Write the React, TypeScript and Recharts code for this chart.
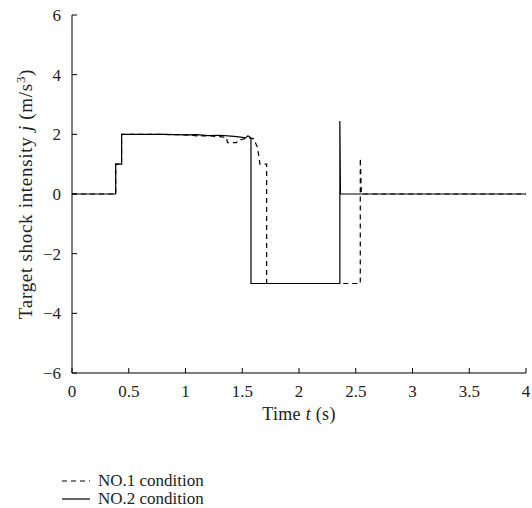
import React from "react";
import { LineChart, Line, XAxis, YAxis } from "recharts";

// ─── Data ────────────────────────────────────────────────────────────────────

const timeNo1 = [
  0, 0.385, 0.385, 0.437, 0.437, 0.6, 0.8, 1.0, 1.1, 1.2, 1.3, 1.36, 1.37, 1.45, 1.46,
  1.52, 1.55, 1.6, 1.63, 1.65, 1.655, 1.715, 1.715, 2.54, 2.54, 2.55, 4,
];
const jerkNo1 = [
  0, 0, 1, 1, 2, 2, 2, 1.98, 1.95, 1.95, 1.92, 1.9, 1.72, 1.72, 1.8, 1.85, 1.9, 1.85,
  1.6, 1.2, 1.0, 1.0, -3, -3, 1.2, 0, 0,
];

const timeNo2 = [
  0, 0.385, 0.385, 0.437, 0.437, 0.6, 0.8, 1.0, 1.1, 1.2, 1.3, 1.4, 1.45, 1.5, 1.53,
  1.55, 1.57, 1.577, 1.577, 2.36, 2.36, 2.365, 4,
];
const jerkNo2 = [
  0, 0, 1, 1, 2, 2, 2, 1.98, 1.99, 1.96, 1.97, 1.94, 1.92, 1.9, 1.88, 1.95, 1.9, 1.85,
  -3, -3, 2.45, 0, 0,
];

const xTicks = [0, 0.5, 1, 1.5, 2, 2.5, 3, 3.5, 4];
const yTicks = [-6, -4, -2, 0, 2, 4, 6];
const seriesNames = ["NO.1 condition", "NO.2 condition"];

const no1Data = timeNo1.map((t, i) => ({ t, j: jerkNo1[i] }));
const no2Data = timeNo2.map((t, i) => ({ t, j: jerkNo2[i] }));

const FONT = "'Liberation Serif', 'DejaVu Serif', serif";
const DASH = "5 4";
const INK = "#222";

const fmtMinus = (v: number) => String(v).replace("-", "\u2212");

function YLabel({ viewBox }: any) {
  const cx = 32;
  const cy = viewBox ? viewBox.y + viewBox.height / 2 : 194;
  return (
    <text
      x={cx}
      y={cy}
      transform={`rotate(-90, ${cx}, ${cy})`}
      textAnchor="middle"
      fontFamily={FONT}
      fontSize={19}
      letterSpacing={0.7}
      fill={INK}
    >
      Target shock intensity <tspan fontStyle="italic">j</tspan> (m/s
      <tspan dy={-7} fontSize={13}>3</tspan>
      <tspan dy={7}>)</tspan>
    </text>
  );
}

function XLabel({ viewBox }: any) {
  const cx = viewBox ? viewBox.x + viewBox.width / 2 : 299;
  return (
    <text x={cx} y={420} textAnchor="middle" fontFamily={FONT} fontSize={18} letterSpacing={0.3} fill={INK}>
      Time <tspan fontStyle="italic">t</tspan> (s)
    </text>
  );
}

export default function App() {
  return (
    <div style={{ position: "absolute", left: 0, top: 0, width: 532, height: 508, background: "#fff" }}>
      <LineChart width={532} height={440} margin={{ top: 15, right: 6, left: 0, bottom: 20 }}>
        <XAxis
          type="number"
          dataKey="t"
          domain={[0, 4]}
          ticks={xTicks}
          allowDuplicatedCategory={false}
          height={47}
          stroke="#000"
          tickSize={-5}
          tickMargin={17}
          tick={{ fontFamily: FONT, fontSize: 17, fill: INK }}
          label={<XLabel />}
        />
        <YAxis
          type="number"
          dataKey="j"
          domain={[-6, 6]}
          ticks={yTicks}
          width={72}
          stroke="#000"
          tickSize={-5}
          tickMargin={16}
          tickFormatter={fmtMinus}
          tick={{ fontFamily: FONT, fontSize: 17, fill: INK }}
          label={<YLabel />}
        />
        <Line
          data={no1Data}
          dataKey="j"
          name={seriesNames[0]}
          type="linear"
          stroke="#000"
          strokeWidth={1.2}
          strokeDasharray={DASH}
          dot={false}
          isAnimationActive={false}
        />
        <Line
          data={no2Data}
          dataKey="j"
          name={seriesNames[1]}
          type="linear"
          stroke="#000"
          strokeWidth={1.2}
          dot={false}
          isAnimationActive={false}
        />
      </LineChart>

      {/* Legend below the plot */}
      <svg width={532} height={68} style={{ position: "absolute", left: 0, top: 440 }}>
        {seriesNames.map((name, i) => {
          const y = 41 + i * 18;
          return (
            <g key={name}>
              <line
                x1={62}
                x2={90}
                y1={y}
                y2={y}
                stroke="#000"
                strokeWidth={1.2}
                strokeDasharray={i === 0 ? DASH : undefined}
              />
              <text x={98} y={y + 5} fontFamily={FONT} fontSize={17} fill={INK}>
                {name}
              </text>
            </g>
          );
        })}
      </svg>
    </div>
  );
}
